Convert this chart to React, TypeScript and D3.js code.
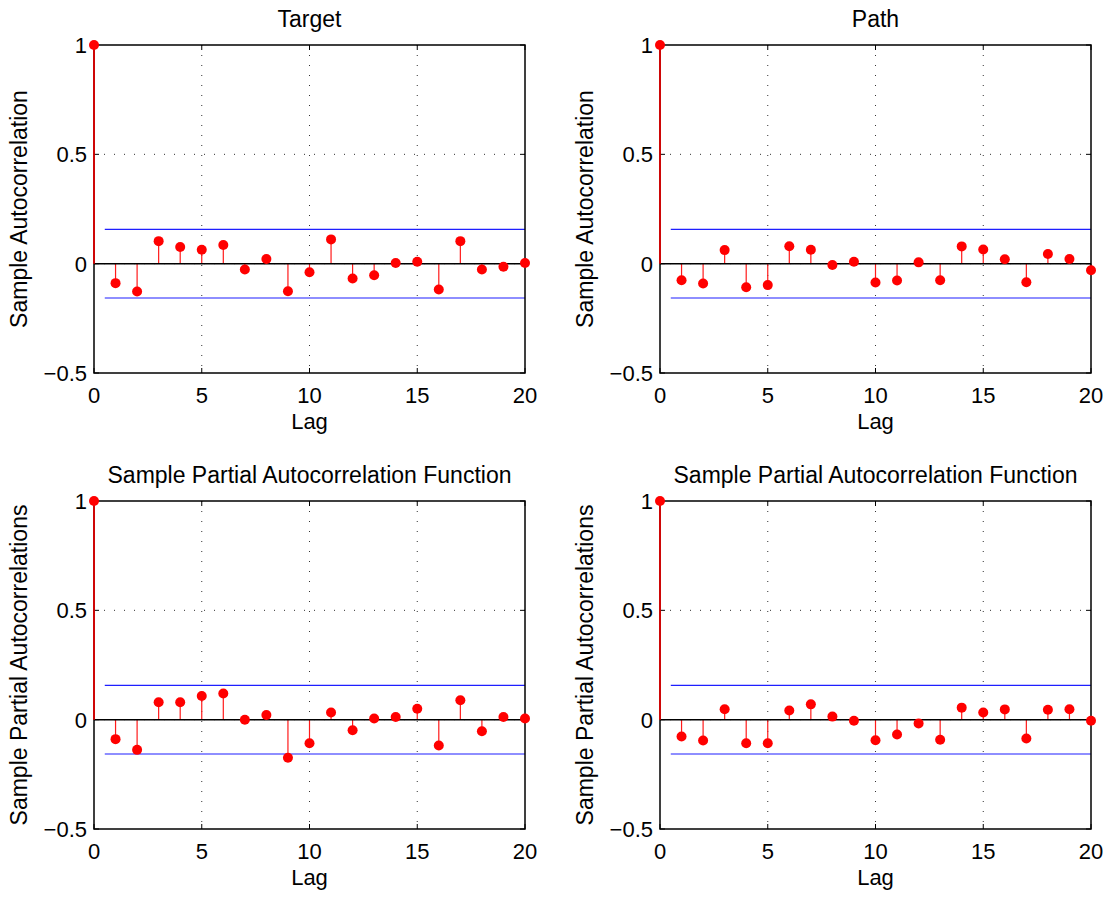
import React from 'react';
import * as d3 from 'd3';

// sample autocorrelation / partial autocorrelation, lags 0..20
const lags = d3.range(0, 21);
const acfTarget = [1, -0.089, -0.127, 0.103, 0.076, 0.064, 0.085, -0.027, 0.021, -0.126, -0.039,
  0.111, -0.068, -0.053, 0.003, 0.009, -0.118, 0.103, -0.027, -0.014, 0.003];
const acfPath = [1, -0.076, -0.091, 0.062, -0.108, -0.098, 0.080, 0.064, -0.006, 0.009, -0.086,
  -0.077, 0.006, -0.076, 0.079, 0.065, 0.020, -0.085, 0.044, 0.021, -0.030];
const pacfTarget = [1, -0.089, -0.138, 0.080, 0.080, 0.108, 0.120, 0.000, 0.021, -0.174, -0.108,
  0.033, -0.048, 0.005, 0.012, 0.050, -0.118, 0.089, -0.053, 0.012, 0.005];
const pacfPath = [1, -0.077, -0.095, 0.048, -0.108, -0.108, 0.042, 0.070, 0.014, -0.005, -0.094,
  -0.068, -0.017, -0.092, 0.055, 0.033, 0.047, -0.086, 0.045, 0.048, -0.005];
const bound = 0.157;
const xTicks = [0, 5, 10, 15, 20];
const yTicks = [-0.5, 0, 0.5, 1];
const yTickLabels = ['\u22120.5', '0', '0.5', '1'];

const panels = [
  { title: 'Target', ylabel: 'Sample Autocorrelation', values: acfTarget, left: 94, top: 45, labelX: 27 },
  { title: 'Path', ylabel: 'Sample Autocorrelation', values: acfPath, left: 660, top: 45, labelX: 593 },
  { title: 'Sample Partial Autocorrelation Function', ylabel: 'Sample Partial Autocorrelations', values: pacfTarget, left: 94, top: 501, labelX: 27 },
  { title: 'Sample Partial Autocorrelation Function', ylabel: 'Sample Partial Autocorrelations', values: pacfPath, left: 660, top: 501, labelX: 593 },
];

const W = 431;
const H = 328;
const font = 'Liberation Sans, Arial, Helvetica, sans-serif';

const Panel = ({ p }) => {
  const x = d3.scaleLinear().domain([0, 20]).range([0, W]);
  const y = d3.scaleLinear().domain([-0.5, 1]).range([H, 0]);
  const tick = 5;

  return (
    <g transform={`translate(${p.left},${p.top})`} fontFamily={font} fontSize={22} fill="#000">
      {/* grid */}
      {xTicks.slice(1, -1).map(t => (
        <line key={'gx' + t} x1={x(t)} x2={x(t)} y1={0} y2={H}
          stroke="#333" strokeWidth={1} strokeDasharray="1,9" />
      ))}
      {yTicks.slice(1, -1).map(t => (
        <line key={'gy' + t} x1={0} x2={W} y1={y(t)} y2={y(t)}
          stroke="#333" strokeWidth={1} strokeDasharray="1,9" />
      ))}

      {/* confidence bounds */}
      {[bound, -bound].map(b => (
        <line key={'b' + b} x1={x(0.5)} x2={x(20)} y1={y(b)} y2={y(b)}
          stroke="#1f1fff" strokeWidth={1.2} />
      ))}

      {/* stems */}
      {p.values.map((v, i) => (
        <line key={'s' + i} x1={x(lags[i])} x2={x(lags[i])} y1={y(0)} y2={y(v)}
          stroke="#ff1a1a" strokeWidth={1.2} />
      ))}
      <line x1={0} x2={W} y1={y(0)} y2={y(0)} stroke="#000" strokeWidth={1.5} />

      {/* box */}
      <rect x={0} y={0} width={W} height={H} fill="none" stroke="#000" strokeWidth={1.5} />
      {xTicks.map(t => (
        <g key={'xt' + t}>
          <line x1={x(t)} x2={x(t)} y1={H} y2={H - tick} stroke="#000" />
          <line x1={x(t)} x2={x(t)} y1={0} y2={tick} stroke="#000" />
          <text x={x(t)} y={H + 30} textAnchor="middle">{t}</text>
        </g>
      ))}
      {yTicks.map((t, i) => (
        <g key={'yt' + t}>
          <line x1={0} x2={tick} y1={y(t)} y2={y(t)} stroke="#000" />
          <line x1={W} x2={W - tick} y1={y(t)} y2={y(t)} stroke="#000" />
          <text x={-7} y={y(t) + 8} textAnchor="end">{yTickLabels[i]}</text>
        </g>
      ))}

      {/* markers */}
      {p.values.map((v, i) => (
        <circle key={'m' + i} cx={x(lags[i])} cy={y(v)} r={5} fill="#ff0000" />
      ))}
      {/* lag-0 stem drawn over the axis */}
      <line x1={x(0)} x2={x(0)} y1={y(0)} y2={y(p.values[0])} stroke="#ff0000" strokeWidth={1.5} />

      {/* labels */}
      <text x={W / 2} y={-18} textAnchor="middle" fontSize={23}>{p.title}</text>
      <text x={W / 2} y={H + 56} textAnchor="middle">Lag</text>
      <text transform={`translate(${p.labelX - p.left},${H / 2}) rotate(-90)`}
        textAnchor="middle" fontSize={23}>{p.ylabel}</text>
    </g>
  );
};

export default function App() {
  return (
    <svg width={1110} height={897} style={{ position: 'absolute', left: 0, top: 0, background: '#fff' }}>
      <rect width={1110} height={897} fill="#fff" />
      {panels.map((p, i) => <Panel key={i} p={p} />)}
    </svg>
  );
}
